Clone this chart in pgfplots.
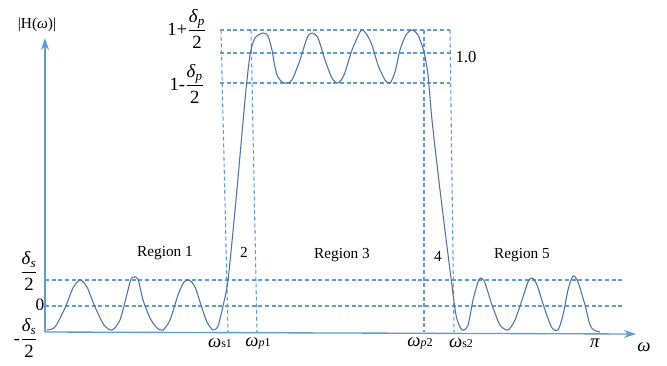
\documentclass[border=0pt]{standalone}
\usepackage{pgfplots}
\pgfplotsset{compat=1.18}
\usepackage{amsmath}
\usepackage{fontspec}
\setmainfont{Liberation Serif}
\usetikzlibrary{arrows.meta}
\definecolor{curve}{RGB}{75,115,175}
\definecolor{axc}{RGB}{95,155,215}
\begin{document}
\begin{tikzpicture}
\begin{axis}[name=ax, at={(0,0)}, anchor=south west,
  scale only axis, width=500.25pt, height=273.75pt,
  xmin=0, xmax=667, ymin=0, ymax=365, y dir=reverse,
  hide axis, clip=false]
% dashed guide lines
\pgfplotsset{guide/.style={axc, line width=0.8pt, dash pattern=on 3pt off 2pt}}
\addplot[guide] coordinates {(45,280) (623,280)};
\addplot[guide] coordinates {(45,306) (623,306)};
\addplot[guide] coordinates {(220,30) (450,30)};
\addplot[guide] coordinates {(220,53) (450,53)};
\addplot[guide] coordinates {(220,83) (450,83)};
\addplot[guide] coordinates {(221,30) (228,332)};
\addplot[guide] coordinates {(251,30) (257,332)};
\addplot[guide] coordinates {(424,30) (424,332)};
\addplot[guide] coordinates {(450,30) (454,332)};
% axes
\addplot[axc, line width=1pt, -{Stealth[length=9pt,width=6pt]}] coordinates {(45,332) (45,38)};
\addplot[axc, line width=1pt, -{Stealth[length=9pt,width=6pt]}] coordinates {(45,332) (636,334)};
% response
\addplot[curve, line width=0.8pt, smooth, tension=0.45] coordinates {
(47,330) (55,327) (65,308) (73,288) (80,280) (87,287) (95,307) (104,325) (112,330)
(120,320) (127,294) (131,279) (134,277) (138,279) (143,300) (150,318) (157,328) (163,330)
(170,320) (178,295) (184,282) (189,280) (195,287) (201,305) (207,322) (213,330)
(218,326) (223,306) (228,280) (236,200) (245,100) (250,55) (255,38) (263,33)
(268,36) (272,50) (274,62) (277,75) (282,82) (287,83) (292,80) (300,60) (307,38) (312,33)
(318,38) (325,60) (332,78) (338,83) (344,75) (352,50) (360,32) (363,30)
(367,35) (372,45) (378,65) (385,80) (390,83) (395,72) (400,50) (406,35) (412,30)
(418,35) (424,52) (428,75) (432,120) (440,190) (450,270) (456,315) (462,330)
(468,325) (473,300) (478,282) (481,278) (485,283) (492,305) (500,325) (508,330)
(515,320) (522,300) (528,282) (532,278) (537,285) (545,310) (552,328) (558,330)
(563,315) (568,290) (573,276) (578,282) (585,305) (590,325) (594,330) (600,332)};
% labels
\node[font=\fontsize{11.5}{13}\selectfont] at (axis cs:37,25) {|H(\textit{ω})|};
\node[font=\fontsize{14}{16}\selectfont] at (axis cs:29,271) {$\dfrac{\mbox{\textit{δ}\textsubscript{\textit{s}}}}{\mbox{2}}$};
\node[font=\fontsize{13}{15}\selectfont] at (axis cs:40,305) {0};
\node[font=\fontsize{14}{16}\selectfont] at (axis cs:26,338) {-$\dfrac{\mbox{\textit{δ}\textsubscript{\textit{s}}}}{\mbox{2}}$};
\node[font=\fontsize{14}{16}\selectfont] at (axis cs:187,29) {1+$\dfrac{\mbox{\textit{δ}\textsubscript{\textit{p}}}}{\mbox{2}}$};
\node[font=\fontsize{14}{16}\selectfont] at (axis cs:187,84) {1-$\dfrac{\mbox{\textit{δ}\textsubscript{\textit{p}}}}{\mbox{2}}$};
\node[font=\fontsize{12.5}{14}\selectfont] at (axis cs:466,57) {1.0};
\node[font=\fontsize{11.5}{13}\selectfont] at (axis cs:165,253) {Region 1};
\node[font=\fontsize{11.5}{13}\selectfont] at (axis cs:244,252) {2};
\node[font=\fontsize{11.5}{13}\selectfont] at (axis cs:342,255) {Region 3};
\node[font=\fontsize{11.5}{13}\selectfont] at (axis cs:438,256) {4};
\node[font=\fontsize{11.5}{13}\selectfont] at (axis cs:522,255) {Region 5};
\node[font=\fontsize{14}{16}\selectfont] at (axis cs:220,343) {\textit{ω}{\fontsize{9}{10}\selectfont s1}};
\node[font=\fontsize{14}{16}\selectfont] at (axis cs:258,343) {\textit{ω}{\fontsize{9}{10}\selectfont\textit{p}1}};
\node[font=\fontsize{14}{16}\selectfont] at (axis cs:420,343) {\textit{ω}{\fontsize{9}{10}\selectfont\textit{p}2}};
\node[font=\fontsize{14}{16}\selectfont] at (axis cs:461,343) {\textit{ω}{\fontsize{9}{10}\selectfont s2}};
\node[font=\fontsize{14}{16}\selectfont] at (axis cs:595,343) {\textit{π}};
\node[font=\fontsize{14}{16}\selectfont] at (axis cs:644,347) {\textit{ω}};
\end{axis}
\pgfresetboundingbox
\path (ax.south west) rectangle (ax.north east);
\end{tikzpicture}
\end{document}
